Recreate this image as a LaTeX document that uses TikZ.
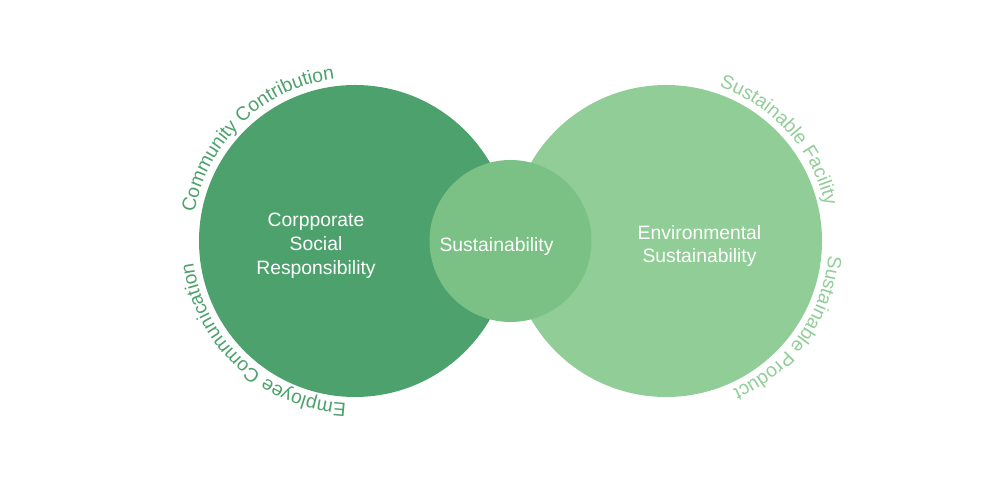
\documentclass[tikz,border=0pt]{standalone}
\usepackage{fontspec}
\setmainfont{Liberation Sans}
\usetikzlibrary{positioning,calc,decorations.text}
\definecolor{csrgreen}{HTML}{4DA16C}
\definecolor{hubgreen}{HTML}{7BC085}
\definecolor{envgreen}{HTML}{91CD96}
\newcommand{\labelfont}{\fontsize{11}{13.6}\selectfont}

\begin{document}
\begin{tikzpicture}[node distance=6.22cm,big node/.style={circle,inner sep=0pt,minimum size=6.24cm},hub node/.style={circle,inner sep=0pt,minimum size=3.24cm,fill=hubgreen},label node/.style={inner sep=0pt,align=center,text=white,font=\labelfont},ring text/.style={decorate,decoration={text along path,text align=left,text color=#1}}]
            \useasboundingbox (0,0) rectangle (20,9.88);

            \node[big node,fill=csrgreen] (csr) at (7.1,5.06) {};
            \node[big node,fill=envgreen] (env)[right of = csr] {};
            \node[hub node] (hub) at ($(csr)!0.5!(env)$) {};

            \node[label node] (csrtext) at (6.32,4.96) {Corpporate\\Social\\Responsibility};
            \node[label node] (hubtext) at (9.93,4.94) {Sustainability};
            \node[label node] (envtext) at (13.99,4.96) {Environmental\\Sustainability};

            \path[ring text=csrgreen,decoration={text={|\labelfont|Community Contribution}}]
                ($(csr)+(170:3.26)$) arc[start angle=170,end angle=90,radius=3.26];
            \path[ring text=csrgreen,decoration={text={|\labelfont|Employee Communication}}]
                ($(csr)+(267:3.26)$) arc[start angle=267,end angle=180,radius=3.26];
            \path[ring text=envgreen,decoration={text={|\labelfont|Sustainable Facility}}]
                ($(env)+(71:3.26)$) arc[start angle=71,end angle=0,radius=3.26];
            \path[ring text=envgreen,decoration={text={|\labelfont|Sustainable Product}}]
                ($(env)+(-5:3.26)$) arc[start angle=-5,end angle=-75,radius=3.26];
        \end{tikzpicture}
\end{document}
